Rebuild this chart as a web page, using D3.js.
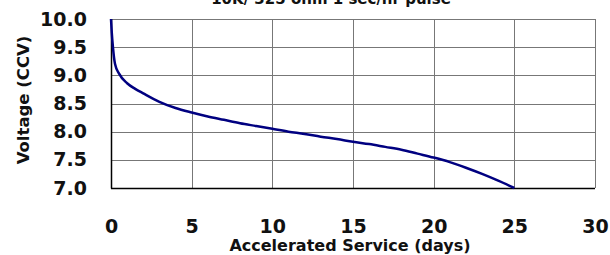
<!DOCTYPE html>
<html>
<head>
<meta charset="utf-8">
<script src="https://cdn.jsdelivr.net/npm/d3@7"></script>
<style>
  body { margin: 0; background: #fff; }
  text { font-family: "DejaVu Sans", Verdana, sans-serif; font-weight: bold; fill: #111; }
</style>
</head>
<body>
<div id="chart"></div>
<script>
// days of accelerated service
var days = [0, 0.05, 0.12, 0.25, 0.5, 1, 1.5, 2, 3, 4, 5, 6, 7, 8, 9, 10,
            11, 12, 13, 14, 15, 16, 17, 18, 19, 20, 21, 22, 23, 24, 25];
// closed circuit voltage
var volts = [10.0, 9.75, 9.5, 9.2, 9.03, 8.86, 8.76, 8.68, 8.53, 8.42, 8.34, 8.27, 8.21, 8.15, 8.1, 8.05,
             8.0, 7.96, 7.91, 7.87, 7.82, 7.78, 7.73, 7.68, 7.61, 7.54, 7.46, 7.36, 7.25, 7.13, 7.0];
var xTicks = [0, 5, 10, 15, 20, 25, 30];
var yTicks = [7.0, 7.5, 8.0, 8.5, 9.0, 9.5, 10.0];

var margin = {top: 19, right: 15, bottom: 67, left: 111},
    width = 610 - margin.left - margin.right,
    height = 255 - margin.top - margin.bottom;

var svg = d3.select("#chart")
  .append("svg")
  .attr("width", 610)
  .attr("height", 255)
  .append("g")
  .attr("transform", "translate(" + margin.left + "," + margin.top + ")");

var x = d3.scaleLinear().domain([0, 30]).range([0, width]);
var y = d3.scaleLinear().domain([7, 10]).range([height, 0]);

// grid
svg.append("g")
  .selectAll("line.h")
  .data(yTicks)
  .enter().append("line")
  .attr("x1", 0).attr("x2", width)
  .attr("y1", function(d) { return Math.round(y(d)) + 0.5; })
  .attr("y2", function(d) { return Math.round(y(d)) + 0.5; })
  .attr("stroke", "#777");

svg.append("g")
  .selectAll("line.v")
  .data(xTicks)
  .enter().append("line")
  .attr("x1", function(d) { return Math.round(x(d)) + 0.5; })
  .attr("x2", function(d) { return Math.round(x(d)) + 0.5; })
  .attr("y1", 0).attr("y2", height)
  .attr("stroke", "#777");

// axes
var xAxis = d3.axisBottom(x).tickValues(xTicks).tickSize(0).tickPadding(32)
  .tickFormat(d3.format("d"));
svg.append("g")
  .attr("class", "myXaxis")
  .attr("transform", "translate(0," + height + ")")
  .call(xAxis);

var yAxis = d3.axisLeft(y).tickValues(yTicks).tickSize(0).tickPadding(24)
  .tickFormat(d3.format(".1f"));
svg.append("g")
  .attr("class", "myYaxis")
  .call(yAxis);

svg.selectAll(".domain").remove();
svg.selectAll(".tick text").style("font-family", null);
svg.selectAll(".myXaxis .tick text").style("font-size", "19px");
svg.selectAll(".myYaxis .tick text").style("font-size", "19px");

svg.append("line")
  .attr("x1", 0.5).attr("x2", 0.5).attr("y1", 0).attr("y2", height + 0.5)
  .attr("stroke", "#000").attr("stroke-width", 1.5);
svg.append("line")
  .attr("x1", 0).attr("x2", width).attr("y1", Math.round(height) + 0.5).attr("y2", Math.round(height) + 0.5)
  .attr("stroke", "#000").attr("stroke-width", 1.5);

// curve
var pts = days.map(function(d, i) { return [d, volts[i]]; });
svg.append("path")
  .datum(pts)
  .attr("d", d3.line()
    .x(function(d) { return x(d[0]); })
    .y(function(d) { return y(d[1]); })
    .curve(d3.curveMonotoneX))
  .attr("fill", "none")
  .attr("stroke", "#000080")
  .attr("stroke-width", 2.5);

// labels
svg.append("text")
  .attr("x", 220)
  .attr("y", -15)
  .attr("text-anchor", "middle")
  .style("font-size", "15px")
  .text("10K/ 325 ohm 1 sec/hr pulse");

svg.append("text")
  .attr("x", width / 2 - 3)
  .attr("y", height + 63)
  .attr("text-anchor", "middle")
  .style("font-size", "16px")
  .text("Accelerated Service (days)");

svg.append("text")
  .attr("transform", "rotate(-90)")
  .attr("x", -81)
  .attr("y", -82)
  .attr("text-anchor", "middle")
  .style("font-size", "16.5px")
  .text("Voltage (CCV)");
</script>
</body>
</html>
